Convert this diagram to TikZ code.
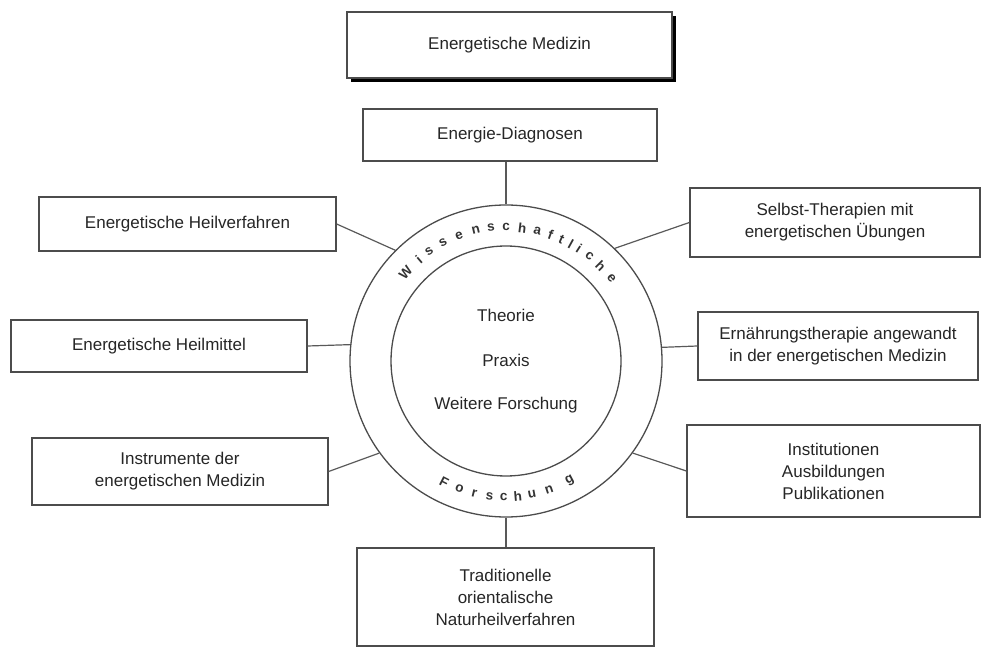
\documentclass[tikz,border=0pt]{standalone}
\usepackage{fontspec}
\setmainfont{Liberation Sans}
\usetikzlibrary{shadows}

\begin{document}
\begin{tikzpicture}[x=1pt, y=1pt, font=\fontsize{17}{22}\selectfont,
    box/.style={draw=black!70, line width=1.3pt, fill=white, text=black!85,
                align=center, inner sep=0pt},
    conn/.style={draw=black!65, line width=1.2pt},
    ringline/.style={draw=black!70, line width=1.3pt, circle, inner sep=0pt},
    ringletter/.style={inner sep=0pt, text=black!80, font=\bfseries\fontsize{13.5}{16}\selectfont}]
    \useasboundingbox (0,0) rectangle (981,648);

    %----------------------
    % TITLE
    %----------------------
    \node[box, minimum width=325pt, minimum height=66pt,
          drop shadow={shadow xshift=4pt, shadow yshift=-4pt, fill=black, opacity=1}]
          (medizin) at (509.5,603) {Energetische Medizin};

    %----------------------
    % RING in the middle
    %----------------------
    \node[ringline, minimum size=312pt] (ring) at (506,287) {};
    \node[ringline, minimum size=230pt] (core) at (506,287) {};

    % Texts inside the inner circle
    \node[text=black!85] (theorie) at (506,333) {Theorie};
    \node[text=black!85] (praxis) at (506,288) {Praxis};
    \node[text=black!85] (weitere) at (506,243) {Weitere Forschung};

    % Letters along the top of the ring
    \foreach \ch/\ang [count=\i] in {W/138.5, i/130.5, s/125, s/118, e/110.5, n/103,
            s/96.5, c/90, h/83, a/76.5, f/70.5, t/65.5, l/61, i/57, c/51.5, h/45, e/38}
        \node[ringletter, rotate=\ang-90] (top\i) at ([shift={(\ang:134)}]ring.center) {\ch};

    % Letters along the bottom of the ring
    \foreach \ch/\ang [count=\i] in {F/-117, o/-110, r/-103.5, s/-97, c/-91,
            h/-85, u/-79, n/-71.5, g/-62}
        \node[ringletter, rotate=\ang+90] (bot\i) at ([shift={(\ang:136)}]ring.center) {\ch};

    %----------------------
    % BOXES around the ring
    %----------------------
    \node[box, minimum width=294pt, minimum height=52pt] (diagnosen) at (510,513) {Energie-Diagnosen};

    % left side
    \node[box, minimum width=297pt, minimum height=54pt] (heilverfahren) at (187.5,424) {Energetische Heilverfahren};
    \node[box, minimum width=296pt, minimum height=52pt] (heilmittel) at (159,302) {Energetische Heilmittel};
    \node[box, minimum width=296pt, minimum height=67pt] (instrumente) at (180,176.5) {Instrumente der\\energetischen Medizin};

    % right side
    \node[box, minimum width=290pt, minimum height=69pt] (selbst) at (835,425.5) {Selbst-Therapien mit\\energetischen Übungen};
    \node[box, minimum width=280pt, minimum height=68pt] (ernaehrung) at (838,302) {Ernährungstherapie angewandt\\in der energetischen Medizin};
    \node[box, minimum width=293pt, minimum height=92pt] (institutionen) at (833.5,177) {Institutionen\\Ausbildungen\\Publikationen};

    % bottom
    \node[box, minimum width=297pt, minimum height=98pt] (traditionelle) at (505.5,51) {Traditionelle\\orientalische\\Naturheilverfahren};

    %----------------------
    % CONNECTORS to the ring
    %----------------------
    \draw[conn] (ring.north) -- (ring.north |- diagnosen.south);
    \draw[conn] (heilverfahren.east) -- (ring.135);
    \draw[conn] (heilmittel.east) -- (ring.174.5);
    \draw[conn] (instrumente.east) -- (ring.216);
    \draw[conn] (selbst.west) -- (ring.46);
    \draw[conn] (ernaehrung.west) -- (ring.5.5);
    \draw[conn] (institutionen.west) -- (ring.324.5);
    \draw[conn] (ring.south) -- (ring.south |- traditionelle.north);

\end{tikzpicture}
\end{document}
